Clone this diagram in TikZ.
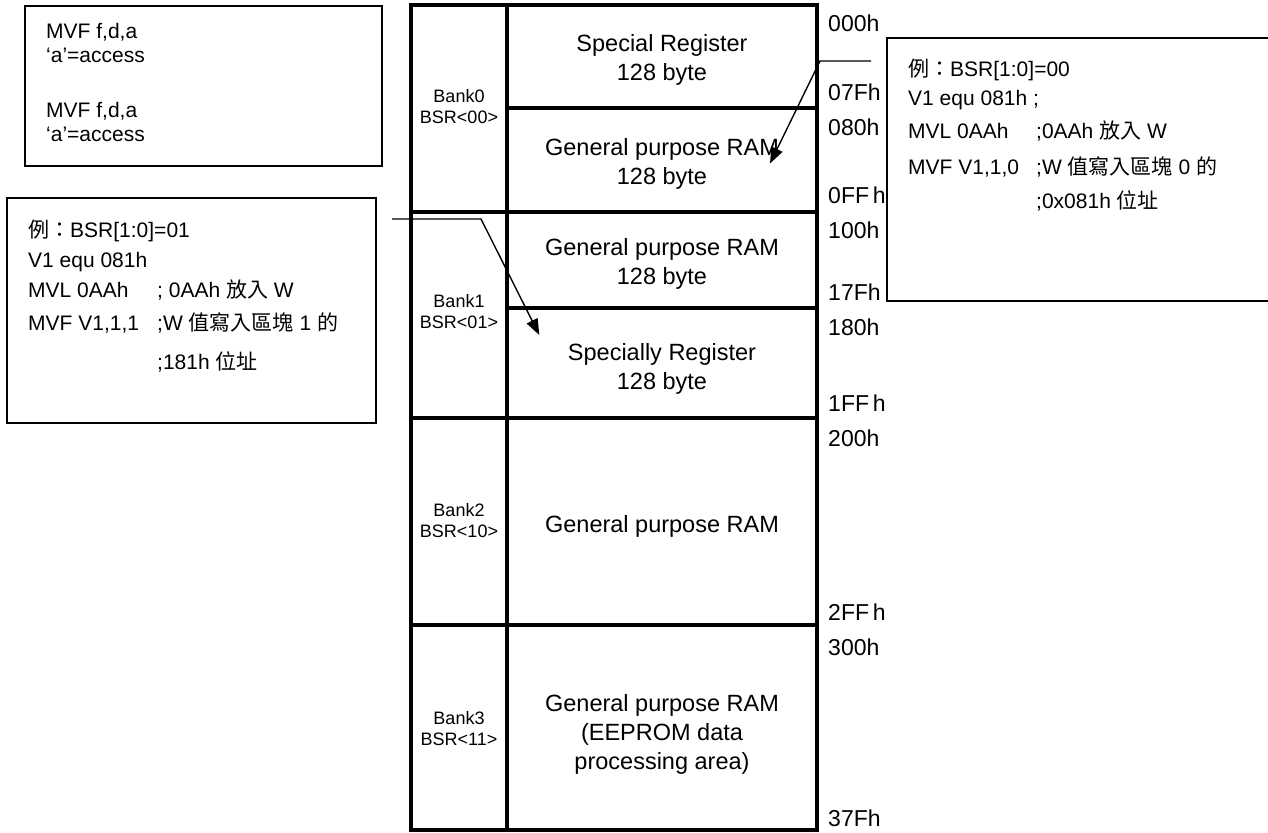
\documentclass[tikz,border=0pt]{standalone}
\usepackage{fontspec}
\setmainfont{Liberation Sans}
\newfontfamily\cjk{Noto Sans CJK TC}
\usetikzlibrary{arrows.meta}
\begin{document}
\begin{tikzpicture}[x=1pt,y=-1pt,
  grid/.style={line width=4pt},
  frame/.style={draw,line width=1.8pt,inner sep=0pt},
  arr/.style={line width=1.4pt,-{Triangle[length=16pt,width=12pt]}},
  boxtxt/.style={font=\fontsize{21}{25}\selectfont,anchor=west,inner sep=0pt,text height=15pt,text depth=0pt},
  addr/.style={font=\fontsize{23}{28}\selectfont,anchor=west,inner sep=0pt,text height=16.5pt,text depth=0pt},
  celltxt/.style={font=\fontsize{23.5}{29}\selectfont,align=center,inner sep=0pt},
  banktxt/.style={font=\fontsize{18}{21}\selectfont,align=center,inner sep=0pt}]
\useasboundingbox (0,0) rectangle (1268,832);

% memory map grid
\draw[grid] (411,5) rectangle (817,829.5);
\draw[grid] (507,5) -- (507,829.5);
\draw[grid] (411,212) -- (817,212);
\draw[grid] (411,418) -- (817,418);
\draw[grid] (411,625) -- (817,625);
\draw[grid] (507,108) -- (817,108);
\draw[grid] (507,308) -- (817,308);

% bank labels
\node[banktxt] (bank0) at (459,106.5) {Bank0\\BSR<00>};
\node[banktxt] (bank1) at (459,311.5) {Bank1\\BSR<01>};
\node[banktxt] (bank2) at (459,520.5) {Bank2\\BSR<10>};
\node[banktxt] (bank3) at (459,728.5) {Bank3\\BSR<11>};

% region labels
\node[celltxt] (c1) at (662,59.8) {Special Register\\128 byte};
\node[celltxt] (c2) at (662,163.8) {General purpose RAM\\128 byte};
\node[celltxt] (c3) at (662,263.8) {General purpose RAM\\128 byte};
\node[celltxt] (c4) at (662,368.8) {Specially Register\\128 byte};
\node[celltxt] (c5) at (662,526.3) {General purpose RAM};
\node[celltxt] (c6) at (662,734.3) {General purpose RAM\\(EEPROM data\\processing area)};

% addresses
\node[addr] (a000) at (828,23.5) {000h};
\node[addr] (a07F) at (828,92) {07Fh};
\node[addr] (a080) at (828,127) {080h};
\node[addr] (a0FF) at (828,195) {0FF\,h};
\node[addr] (a100) at (828,230) {100h};
\node[addr] (a17F) at (828,292) {17Fh};
\node[addr] (a180) at (828,327) {180h};
\node[addr] (a1FF) at (828,403) {1FF\,h};
\node[addr] (a200) at (828,438) {200h};
\node[addr] (a2FF) at (828,612) {2FF\,h};
\node[addr] (a300) at (828,647) {300h};
\node[addr] (a37F) at (828,818) {37Fh};

% top-left box
\node[frame,minimum width=357pt,minimum height=160pt] (tlbox) at (203.5,86) {};
\node[boxtxt] (tl1) at (46,31.3) {MVF f,d,a};
\node[boxtxt] (tl2) at (46,55.5) {‘a’=access};
\node[boxtxt] (tl3) at (46,110) {MVF f,d,a};
\node[boxtxt] (tl4) at (46,133.7) {‘a’=access};

% right box (open at the picture edge)
\draw[line width=1.8pt] (1270,37.7) -- (887,37.7) -- (887,301) -- (1270,301);
\node[boxtxt] (rb1) at (908,68.7) {{\cjk 例：}BSR[1:0]=00};
\node[boxtxt] (rb2) at (908,97.7) {V1 equ 081h ;};
\node[boxtxt] (rb3) at (908,130.7) {MVL 0AAh};
\node[boxtxt] (rb3b) at (1036,130.7) {;0AAh {\cjk 放入} W};
\node[boxtxt] (rb4) at (908,166.7) {MVF V1,1,0};
\node[boxtxt] (rb4b) at (1036,166.7) {;W {\cjk 值寫入區塊} 0 {\cjk 的}};
\node[boxtxt] (rb5) at (1036,201) {;0x081h {\cjk 位址}};

% left box
\node[frame,minimum width=369pt,minimum height=225pt] (lbox) at (191.5,310.5) {};
\node[boxtxt] (lb1) at (28,230) {{\cjk 例：}BSR[1:0]=01};
\node[boxtxt] (lb2) at (28,260) {V1 equ 081h};
\node[boxtxt] (lb3) at (28,290) {MVL 0AAh};
\node[boxtxt] (lb3b) at (157,290) {; 0AAh {\cjk 放入} W};
\node[boxtxt] (lb4) at (28,323.3) {MVF V1,1,1};
\node[boxtxt] (lb4b) at (157,323.3) {;W {\cjk 值寫入區塊} 1 {\cjk 的}};
\node[boxtxt] (lb5) at (157,362) {;181h {\cjk 位址}};

% arrows
\coordinate (ra0) at (871,61);
\coordinate (ra1) at (820,61);
\coordinate (ra2) at (770,163.5);
\draw[arr] (ra0) -- (ra1) -- (ra2);
\coordinate (la0) at (392,219);
\coordinate (la1) at (481,219);
\coordinate (la2) at (539.3,335);
\draw[arr] (la0) -- (la1) -- (la2);
\end{tikzpicture}
\end{document}
